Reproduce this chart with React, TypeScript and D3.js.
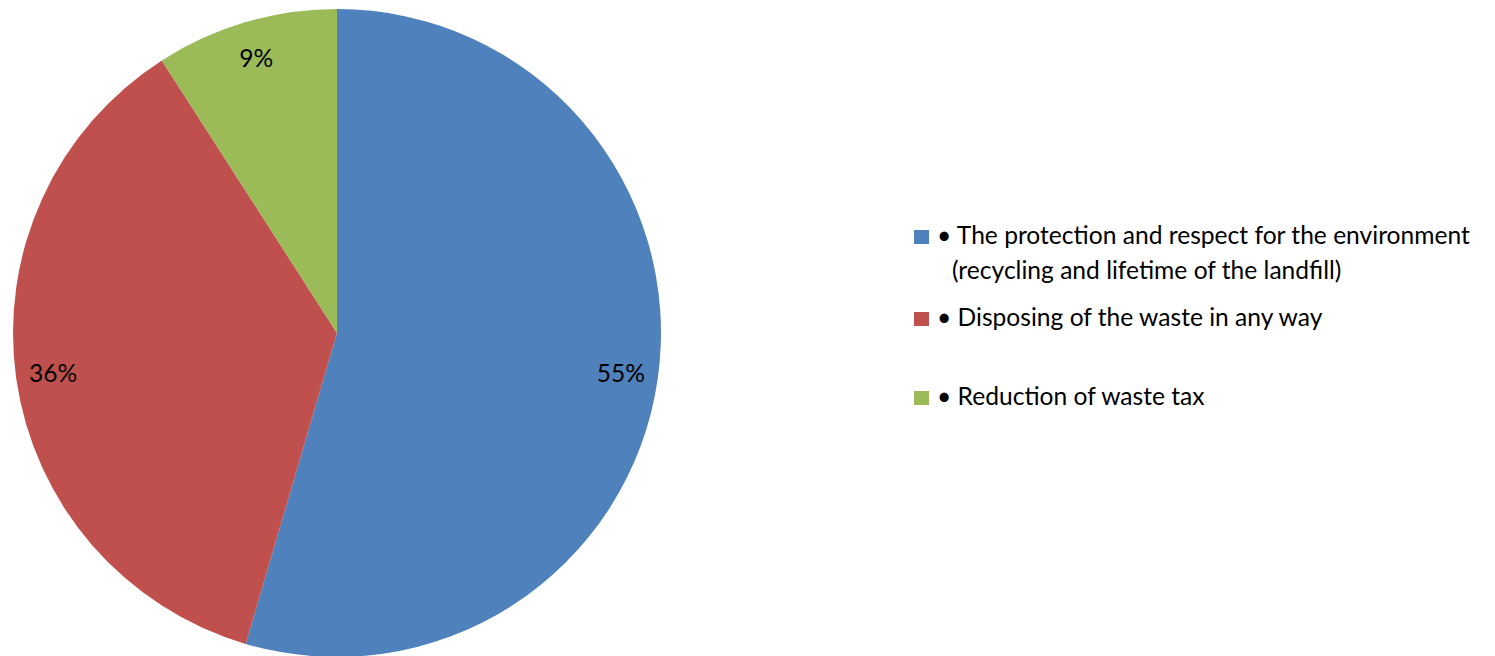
import React from "react";
import * as d3 from "d3";

const categories = [
  "• The protection and respect for the environment (recycling and lifetime of the landfill)",
  "• Disposing of the waste in any way",
  "• Reduction of waste tax",
];
const legendLines = [
  ["• The protection and respect for the environment", "(recycling and lifetime of the landfill)"],
  ["• Disposing of the waste in any way"],
  ["• Reduction of waste tax"],
];
const values = [6, 4, 1];
const colors = ["#4F81BD", "#C0504D", "#9BBB59"];

const W = 1495;
const H = 656;
const cx = 337;
const cy = 333;
const R = 324;
const FONT = "Lato, 'Open Sans', sans-serif";
const legendBaselines = [244, 326, 405];

export default function App() {
  const total = d3.sum(values);
  const pie = d3.pie<number>().sort(null).value((d) => d)(values);
  const arc = d3.arc<d3.PieArcDatum<number>>().innerRadius(0).outerRadius(R);
  const labelArc = d3
    .arc<d3.PieArcDatum<number>>()
    .innerRadius(R * 0.885)
    .outerRadius(R * 0.885);

  return (
    <svg
      width={W}
      height={H}
      style={{ position: "absolute", left: 0, top: 0, background: "#fff" }}
    >
      <g transform={`translate(${cx},${cy})`}>
        {pie.map((p, i) => (
          <path key={i} d={arc(p) || ""} fill={colors[i]} />
        ))}
        {pie.map((p, i) => {
          const [x, y] = labelArc.centroid(p);
          return (
            <text
              key={"l" + i}
              x={x}
              y={y}
              dy="0.35em"
              textAnchor="middle"
              fontFamily={FONT}
              fontSize={24.6}
              fill="#000"
            >
              {Math.round((values[i] / total) * 100) + "%"}
            </text>
          );
        })}
      </g>
      <g>
        {categories.map((c, i) => (
          <g key={c}>
            <rect
              x={914}
              y={legendBaselines[i] - 14}
              width={15}
              height={14}
              fill={colors[i]}
            />
            {legendLines[i].map((line, j) => (
              <text
                key={j}
                x={j === 0 ? 937 : 952}
                y={legendBaselines[i] + j * 35}
                fontFamily={FONT}
                fontSize={24.6}
                fill="#000"
              >
                {line}
              </text>
            ))}
          </g>
        ))}
      </g>
    </svg>
  );
}
